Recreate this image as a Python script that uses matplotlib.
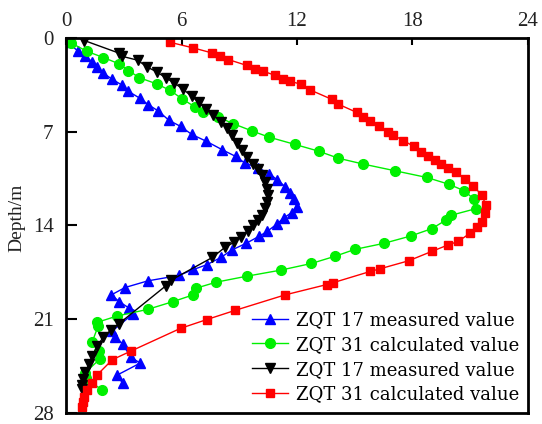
import matplotlib.pyplot as plt

# depth (m) and value for each curve
blue_x = [0.03, 0.64, 0.99, 1.33, 1.59, 1.94, 2.37, 2.89, 3.24, 3.84, 4.28, 4.79, 5.35, 5.95,
          6.53, 7.27, 8.12, 8.82, 9.30, 9.99, 10.55, 10.98, 11.38, 11.64, 11.85, 11.98, 11.72,
          11.30, 10.94, 10.45, 10.05, 9.35, 8.60, 8.05, 7.30, 6.62, 5.85, 4.25, 3.06, 2.35,
          2.76, 3.28, 3.45, 2.40, 2.55, 2.93, 3.35, 3.85, 2.65, 2.93]
blue_d = [0.30, 0.98, 1.35, 1.75, 2.15, 2.62, 3.05, 3.50, 3.98, 4.50, 4.98, 5.45, 6.15, 6.60,
          7.20, 7.70, 8.35, 8.85, 9.35, 9.70, 10.13, 10.60, 11.10, 11.55, 12.05, 12.60, 13.05,
          13.45, 13.92, 14.45, 14.80, 15.35, 15.85, 16.40, 16.95, 17.30, 17.75, 18.15, 18.65,
          19.20, 19.70, 20.20, 20.65, 21.90, 22.35, 22.85, 23.85, 24.30, 25.20, 25.80]

green_x = [0.25, 1.07, 1.94, 2.77, 3.24, 3.81, 4.71, 5.40, 6.01, 6.70, 7.13, 7.91, 8.69, 9.68,
           10.54, 11.90, 13.12, 14.15, 15.45, 17.10, 18.75, 19.90, 20.70, 21.20, 21.30, 20.00,
           19.75, 19.00, 17.90, 16.50, 15.00, 14.00, 12.75, 11.15, 9.40, 7.80, 6.75, 6.60,
           5.56, 4.25, 2.65, 1.62, 1.66, 1.36, 1.70, 1.75, 0.97, 1.05, 1.85]
green_d = [0.35, 0.98, 1.45, 1.93, 2.42, 2.96, 3.42, 3.90, 4.52, 5.15, 5.50, 5.90, 6.40, 6.95,
           7.40, 7.95, 8.45, 8.98, 9.42, 9.92, 10.42, 10.93, 11.42, 12.05, 12.75, 13.25,
           13.60, 14.25, 14.80, 15.35, 15.80, 16.30, 16.85, 17.35, 17.80, 18.25, 18.70, 19.20,
           19.70, 20.28, 20.78, 21.25, 21.55, 22.70, 23.40, 24.00, 25.05, 25.45, 26.30]

black_x = [0.95, 2.75, 2.89, 3.72, 4.20, 4.71, 5.17, 5.62, 6.06, 6.53, 6.90, 7.25, 7.64, 8.05,
           8.35, 8.63, 8.90, 9.15, 9.40, 9.73, 9.99, 10.17, 10.34, 10.42, 10.51, 10.42, 10.34,
           10.17, 9.99, 9.73, 9.45, 9.10, 8.75, 8.25, 7.60, 5.45, 5.20, 2.75, 2.35, 1.93, 1.62,
           1.35, 1.20, 0.99, 0.88, 0.82, 0.80]
black_d = [0.18, 1.12, 1.35, 1.65, 2.15, 2.52, 2.96, 3.35, 3.80, 4.35, 4.80, 5.30, 5.75, 6.25,
           6.75, 7.25, 7.85, 8.40, 8.90, 9.40, 9.78, 10.26, 10.75, 11.25, 11.74, 12.24, 12.73,
           13.23, 13.60, 13.95, 14.40, 14.85, 15.25, 15.65, 16.40, 18.10, 18.50, 21.35, 21.80,
           22.35, 23.05, 23.75, 24.35, 24.95, 25.50, 25.95, 26.25]

red_x = [5.40, 6.61, 7.57, 8.00, 8.43, 9.39, 9.82, 10.22, 10.86, 11.26, 11.64, 12.19, 12.68,
         13.80, 14.15, 15.10, 15.41, 15.79, 16.24, 16.74, 17.00, 17.52, 18.08, 18.45, 18.80,
         19.17, 19.50, 19.84, 20.25, 20.73, 21.16, 21.60, 21.82, 21.77, 21.60, 21.34, 20.99,
         20.38, 19.86, 19.00, 17.80, 16.31, 15.80, 13.85, 13.54, 11.38, 8.80, 7.30, 5.95, 3.37,
         2.40, 1.60, 1.35, 1.10, 0.95, 0.88, 0.82]
red_d = [0.31, 0.73, 1.10, 1.35, 1.60, 2.04, 2.29, 2.46, 2.78, 3.03, 3.21, 3.45, 3.87, 4.57,
         4.94, 5.55, 5.93, 6.17, 6.59, 7.04, 7.24, 7.66, 8.10, 8.50, 8.85, 9.12, 9.43, 9.72,
         10.00, 10.50, 11.05, 11.74, 12.49, 13.10, 13.72, 14.09, 14.59, 15.20, 15.46, 15.95,
         16.65, 17.25, 17.45, 18.30, 18.43, 19.20, 20.35, 21.05, 21.70, 23.40, 24.05, 25.20,
         25.80, 26.30, 26.80, 27.20, 27.60]

labels = ["ZQT 17 measured value", "ZQT 31 calculated value",
          "ZQT 17 measured value", "ZQT 31 calculated value"]
xticks = [0, 6, 12, 18, 24]
yticks = [0, 7, 14, 21, 28]

plt.rcParams['font.family'] = ['DejaVu Serif']

fig = plt.figure(figsize=(5.42, 4.24), dpi=100)
ax = fig.add_axes([0.122, 0.027, 0.852, 0.883])

ax.plot(blue_x, blue_d, color="#0000ff", marker="^", ms=6.5, lw=1.0, label=labels[0])
ax.plot(green_x, green_d, color="#00f000", marker="o", ms=7, lw=1.0, label=labels[1])
ax.plot(black_x, black_d, color="black", marker="v", ms=6.5, lw=1.0, label=labels[2])
ax.plot(red_x, red_d, color="#ff0000", marker="s", ms=5.5, lw=1.0, label=labels[3])

ax.set_xlim(0, 24)
ax.set_ylim(28, 0)
ax.set_xticks(xticks)
ax.set_yticks(yticks)
ax.xaxis.tick_top()
ax.tick_params(axis="x", direction="in", length=5, width=1.5, pad=5,
               labelsize=15, labelcolor="#222222", top=True, bottom=False)
ax.tick_params(axis="y", direction="in", length=8, width=1.5, pad=9,
               labelsize=15, labelcolor="#222222", right=False)
for lab in ax.get_xticklabels() + ax.get_yticklabels():
    lab.set_family("Liberation Serif")
for s in ax.spines.values():
    s.set_linewidth(2)

ax.set_ylabel("Depth/m", fontsize=14, color="#222222", family="Liberation Serif")
ax.yaxis.set_label_coords(-0.088, 0.52)

ax.legend(loc="lower right", frameon=False, fontsize=13, handlelength=2.0,
          handletextpad=0.4, labelspacing=0.38, borderaxespad=0.1, markerscale=1.0)

plt.savefig("out.png", dpi=100)
